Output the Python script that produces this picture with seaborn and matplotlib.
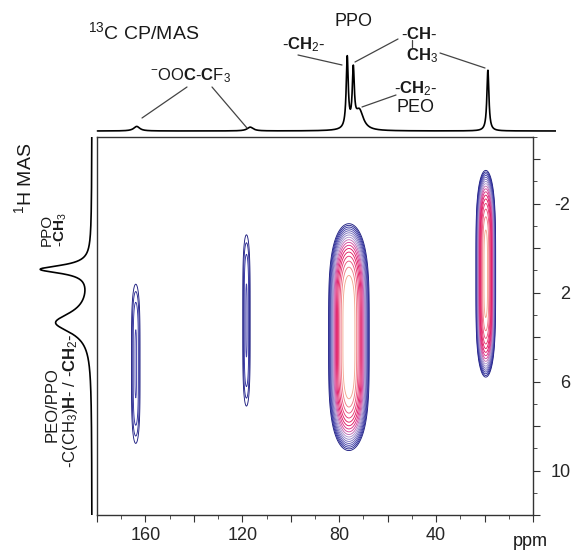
import numpy as np
import seaborn as sns
import matplotlib.pyplot as plt
from matplotlib.colors import LinearSegmentedColormap
from matplotlib.ticker import MultipleLocator, FuncFormatter
from matplotlib.lines import Line2D

# 13C CP/MAS projection (ppm, relative height, half width)
c_pos = [163.8, 117.0, 77.0, 74.5, 72.0, 19.0]
c_amp = [0.06, 0.05, 0.93, 0.73, 0.26, 0.80]
c_hw = [1.5, 1.5, 0.5, 0.5, 2.0, 0.5]

# 1H MAS projection
h_pos = [0.95, 3.35]
h_amp = [1.0, 0.72]
h_hw = [0.22, 0.55]

# 2D cross peaks: 13C / 1H position, height, widths
cross_c = [164.0, 118.3, 76.0, 19.5]
cross_h = [5.2, 3.25, 4.0, 1.15]
cross_amp = [0.04, 0.04, 1.0, 0.8]
cross_wc = [1.5, 1.3, 3.0, 1.5]
cross_wh = [3.3, 3.55, 3.05, 2.82]

xticks_lab = [160, 120, 80, 40]
yticks_lab = [-2, 2, 6, 10]

W, H = 571, 551


def fx(px):
    return px / W


def fy(py):
    return 1 - py / H


def lorentz(grid, pos, amp, hw):
    out = np.zeros_like(grid)
    for p, a, w in zip(pos, amp, hw):
        out += a / (1 + ((grid - p) / w) ** 2)
    return out


sns.set_style("ticks")
plt.rcParams['font.family'] = ['Liberation Sans', 'DejaVu Sans']
plt.rcParams['mathtext.fontset'] = 'custom'
plt.rcParams['mathtext.rm'] = 'Liberation Sans'
plt.rcParams['mathtext.bf'] = 'Liberation Sans:bold'
plt.rcParams['mathtext.it'] = 'Liberation Sans:italic'
plt.rcParams['axes.unicode_minus'] = False

fig = plt.figure(figsize=(5.71, 5.51), dpi=100)

# main 2D panel
ax = fig.add_axes([fx(97), fy(515), fx(533) - fx(97), fy(137) - fy(515)])
xc = np.linspace(0, 180, 1201)
yh = np.linspace(-5, 12, 501)
X, Y = np.meshgrid(xc, yh)
Z = np.zeros_like(X)
for c0, h0, a, wc, wh in zip(cross_c, cross_h, cross_amp, cross_wc, cross_wh):
    Z += a * np.exp(-0.5 * ((X - c0) / wc) ** 2) * np.exp(-0.5 * ((Y - h0) / wh) ** 4)

levels = 0.02 * 1.25 ** np.arange(17)
cmap = LinearSegmentedColormap.from_list(
    "nmr", ["#1c1c80", "#3434a4", "#6f68b8", "#a898d0", "#d8459a", "#e0105a", "#e8457a", "#f4a890"])
cols = [cmap(i / (len(levels) - 1)) for i in range(len(levels))]
ax.contour(X, Y, Z, levels=levels, colors=cols, linewidths=0.65)

ax.set_xlim(180, 0)
ax.set_ylim(12, -5)
ax.xaxis.set_major_locator(MultipleLocator(20))
ax.xaxis.set_minor_locator(MultipleLocator(10))
ax.xaxis.set_major_formatter(FuncFormatter(lambda v, p: f"{v:.0f}" if round(v) in xticks_lab else ""))
ax.yaxis.set_major_locator(MultipleLocator(2))
ax.yaxis.set_minor_locator(MultipleLocator(1))
ax.yaxis.set_major_formatter(FuncFormatter(lambda v, p: f"{v:.0f}" if round(v) in yticks_lab else ""))
ax.tick_params(axis='both', which='both', direction='out', labelsize=13, color='#333333')
ax.tick_params(which='major', length=5)
ax.tick_params(which='minor', length=3)
ax.tick_params(axis='y', which='both', left=False, right=True, labelleft=False, labelright=True, pad=22)
plt.setp(ax.yaxis.get_majorticklabels(), ha='right')
for s in ax.spines.values():
    s.set_color('#333333')
    s.set_linewidth(1.0)
ax.set_xlabel('')
ax.set_ylabel('')

# top 13C projection
ax_top = fig.add_axes([fx(92.6), fy(137), fx(555.8) - fx(92.6), fy(40) - fy(137)])
c_ppm = np.linspace(180, -9, 3000)
c_int = lorentz(c_ppm, c_pos, c_amp, c_hw)
sns.lineplot(x=c_ppm, y=c_int, ax=ax_top, color='black', lw=1.2, sort=False, estimator=None)
ax_top.set_xlim(182, -9)
ax_top.set_ylim(-6 / 76, 91 / 76)
ax_top.axis('off')

# left 1H projection
ax_left = fig.add_axes([fx(25), fy(515), fx(97) - fx(25), fy(137) - fy(515)])
h_ppm = np.linspace(-5, 12, 2000)
h_int = lorentz(h_ppm, h_pos, h_amp, h_hw)
sns.lineplot(x=h_int, y=h_ppm, ax=ax_left, color='black', lw=1.2, sort=False, estimator=None, orient='y')
ax_left.set_ylim(12, -5)
ax_left.set_xlim(67 / 50, -5 / 50)
ax_left.axis('off')

# labels
tc = '#1a1a1a'
fig.text(fx(88), fy(32), r"$^{13}$C CP/MAS", fontsize=14, ha='left', va='center', color=tc)
fig.text(fx(353), fy(21), "PPO", fontsize=13, ha='center', va='center', color=tc)
fig.text(fx(304), fy(45), r"-$\mathbf{CH}$$_2$-", fontsize=12, ha='center', va='center', color=tc)
fig.text(fx(419), fy(34), r"-$\mathbf{CH}$-", fontsize=12, ha='center', va='center', color=tc)
fig.text(fx(422), fy(56), r"$\mathbf{CH}$$_3$", fontsize=12, ha='center', va='center', color=tc)
fig.text(fx(416), fy(89), r"-$\mathbf{CH}$$_2$-", fontsize=12, ha='center', va='center', color=tc)
fig.text(fx(416), fy(108), "PEO", fontsize=13, ha='center', va='center', color=tc)
fig.text(fx(191), fy(76), r"$^{-}$OO$\mathbf{C}$-$\mathbf{C}$F$_3$", fontsize=12, ha='center', va='center', color=tc)
fig.text(fx(530), fy(542), "ppm", fontsize=13, ha='center', va='center', color=tc)

fig.text(fx(24), fy(178), r"$^{1}$H MAS", fontsize=14, rotation=90, ha='center', va='center', color=tc)
fig.text(fx(47), fy(230), "PPO", fontsize=11, rotation=90, ha='center', va='center', color=tc)
fig.text(fx(61), fy(230), r"-$\mathbf{CH}$$_3$", fontsize=11, rotation=90, ha='center', va='center', color=tc)
fig.text(fx(52), fy(405), "PEO/PPO", fontsize=12, rotation=90, ha='center', va='center', color=tc)
fig.text(fx(70), fy(401), r"-C(CH$_3$)$\mathbf{H}$- / -$\mathbf{CH}$$_2$-", fontsize=12, rotation=90,
         ha='center', va='center', color=tc)

# leader lines
leaders = [
    ((298, 55), (342, 65)),
    ((398, 39), (355, 62)),
    ((440, 53), (485, 68)),
    ((396, 95), (362, 107)),
    ((187, 87), (142, 118)),
    ((212, 87), (247, 128)),
    ((412, 40), (412, 47)),
]
for (x1, y1), (x2, y2) in leaders:
    fig.add_artist(Line2D([fx(x1), fx(x2)], [fy(y1), fy(y2)], color='#444444', lw=0.9))

fig.savefig('out.png', dpi=100)
